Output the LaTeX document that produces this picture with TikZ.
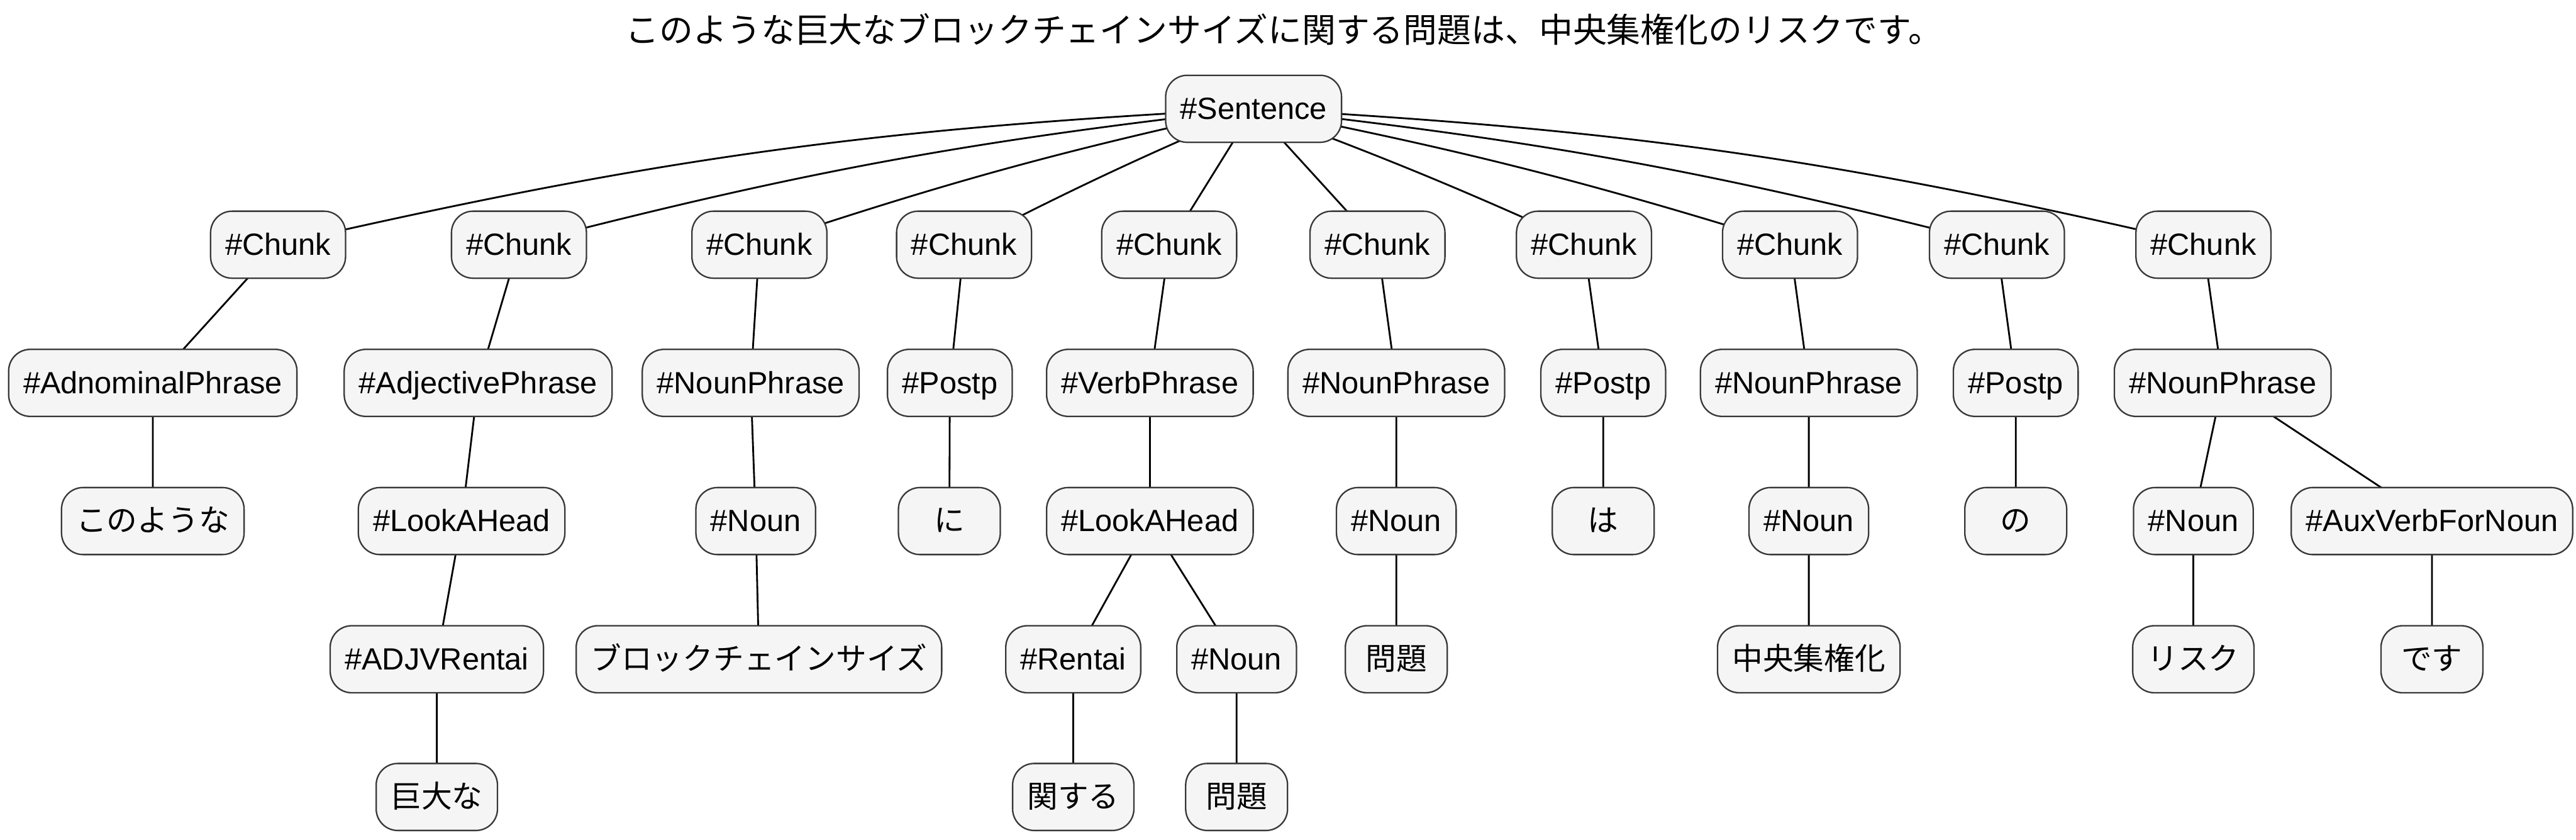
\documentclass[tikz,border=0pt]{standalone}
\usepackage{fontspec}
\setmainfont{Liberation Sans}
\newfontfamily\jpfont{Noto Sans CJK JP}
\usetikzlibrary{backgrounds}

\begin{document}
\begin{tikzpicture}[
        box/.style={draw=black!78,fill=black!4,line width=0.9pt,rounded corners=0.47cm,
            minimum height=1.46cm,minimum width=2.22cm,inner xsep=0.32cm,
            text height=13pt,text depth=0pt,font=\fontsize{19pt}{23pt}\selectfont},
        jpbox/.style={box,font=\jpfont\fontsize{19pt}{23pt}\selectfont},
        link/.style={line width=1.1pt}]
        \useasboundingbox (0,0) rectangle (56.14,-18.29);
        \node (title) at (27.98,-0.64)
            {\jpfont\fontsize{21pt}{25pt}\selectfont このような巨大なブロックチェインサイズに関する問題は、中央集権化のリスクです。};

        \node (sent) [box] at (27.32,-2.37) {\#Sentence};

        \node (ch1) [box] at (6.06,-5.33) {\#Chunk};
        \node (ch2) [box] at (11.31,-5.33) {\#Chunk};
        \node (ch3) [box] at (16.55,-5.33) {\#Chunk};
        \node (ch4) [box] at (21.01,-5.33) {\#Chunk};
        \node (ch5) [box] at (25.48,-5.33) {\#Chunk};
        \node (ch6) [box] at (30.02,-5.33) {\#Chunk};
        \node (ch7) [box] at (34.52,-5.33) {\#Chunk};
        \node (ch8) [box] at (39.01,-5.33) {\#Chunk};
        \node (ch9) [box] at (43.52,-5.33) {\#Chunk};
        \node (ch10) [box] at (48.02,-5.33) {\#Chunk};

        \node (adnp) [box] at (3.33,-8.34) {\#AdnominalPhrase};
        \node (adjp) [box] at (10.42,-8.34) {\#AdjectivePhrase};
        \node (np3) [box] at (16.36,-8.34) {\#NounPhrase};
        \node (pp4) [box] at (20.70,-8.34) {\#Postp};
        \node (vp5) [box] at (25.06,-8.34) {\#VerbPhrase};
        \node (np6) [box] at (30.43,-8.34) {\#NounPhrase};
        \node (pp7) [box] at (34.94,-8.34) {\#Postp};
        \node (np8) [box] at (39.42,-8.34) {\#NounPhrase};
        \node (pp9) [box] at (43.93,-8.34) {\#Postp};
        \node (np10) [box] at (48.44,-8.34) {\#NounPhrase};

        \node (konoyouna) [jpbox] at (3.33,-11.35) {このような};
        \node (look2) [box] at (10.06,-11.35) {\#LookAHead};
        \node (noun3) [box] at (16.47,-11.35) {\#Noun};
        \node (ni) [jpbox] at (20.69,-11.35) {に};
        \node (look5) [box] at (25.06,-11.35) {\#LookAHead};
        \node (noun6) [box] at (30.43,-11.35) {\#Noun};
        \node (ha) [jpbox] at (34.94,-11.35) {は};
        \node (noun8) [box] at (39.42,-11.35) {\#Noun};
        \node (no) [jpbox] at (43.93,-11.35) {の};
        \node (noun10) [box] at (47.80,-11.35) {\#Noun};
        \node (auxv) [box] at (53.00,-11.35) {\#AuxVerbForNoun};

        \node (adjv) [box] at (9.52,-14.36) {\#ADJVRentai};
        \node (bcsize) [jpbox] at (16.54,-14.36) {ブロックチェインサイズ};
        \node (rentai) [box] at (23.39,-14.36) {\#Rentai};
        \node (noun5) [box] at (26.95,-14.36) {\#Noun};
        \node (mondai6) [jpbox] at (30.43,-14.36) {問題};
        \node (chuo) [jpbox] at (39.42,-14.36) {中央集権化};
        \node (risk) [jpbox] at (47.80,-14.36) {リスク};
        \node (desu) [jpbox] at (53.00,-14.36) {です};

        \node (kyodai) [jpbox] at (9.52,-17.36) {巨大な};
        \node (kansuru) [jpbox] at (23.39,-17.36) {関する};
        \node (mondai5) [jpbox] at (26.95,-17.36) {問題};

        \begin{scope}[on background layer]
        \draw [link] (sent.center) to[bend right=5] (ch1.center);
        \draw [link] (sent.center) to[bend right=4] (ch2.center);
        \draw [link] (sent.center) to[bend right=3] (ch3.center);
        \draw [link] (sent.center) to[bend right=2] (ch4.center);
        \draw [link] (sent.center) -- (ch5.center);
        \draw [link] (sent.center) -- (ch6.center);
        \draw [link] (sent.center) to[bend left=2] (ch7.center);
        \draw [link] (sent.center) to[bend left=3] (ch8.center);
        \draw [link] (sent.center) to[bend left=4] (ch9.center);
        \draw [link] (sent.center) to[bend left=5] (ch10.center);

        \draw [link] (ch1.center) -- (adnp.center) -- (konoyouna.center);
        \draw [link] (ch2.center) -- (adjp.center) -- (look2.center) -- (adjv.center) -- (kyodai.center);
        \draw [link] (ch3.center) -- (np3.center) -- (noun3.center) -- (bcsize.center);
        \draw [link] (ch4.center) -- (pp4.center) -- (ni.center);
        \draw [link] (ch5.center) -- (vp5.center) -- (look5.center);
        \draw [link] (look5.center) -- (rentai.center) -- (kansuru.center);
        \draw [link] (look5.center) -- (noun5.center) -- (mondai5.center);
        \draw [link] (ch6.center) -- (np6.center) -- (noun6.center) -- (mondai6.center);
        \draw [link] (ch7.center) -- (pp7.center) -- (ha.center);
        \draw [link] (ch8.center) -- (np8.center) -- (noun8.center) -- (chuo.center);
        \draw [link] (ch9.center) -- (pp9.center) -- (no.center);
        \draw [link] (ch10.center) -- (np10.center);
        \draw [link] (np10.center) -- (noun10.center) -- (risk.center);
        \draw [link] (np10.center) -- (auxv.center) -- (desu.center);
        \end{scope}
    \end{tikzpicture}
\end{document}
